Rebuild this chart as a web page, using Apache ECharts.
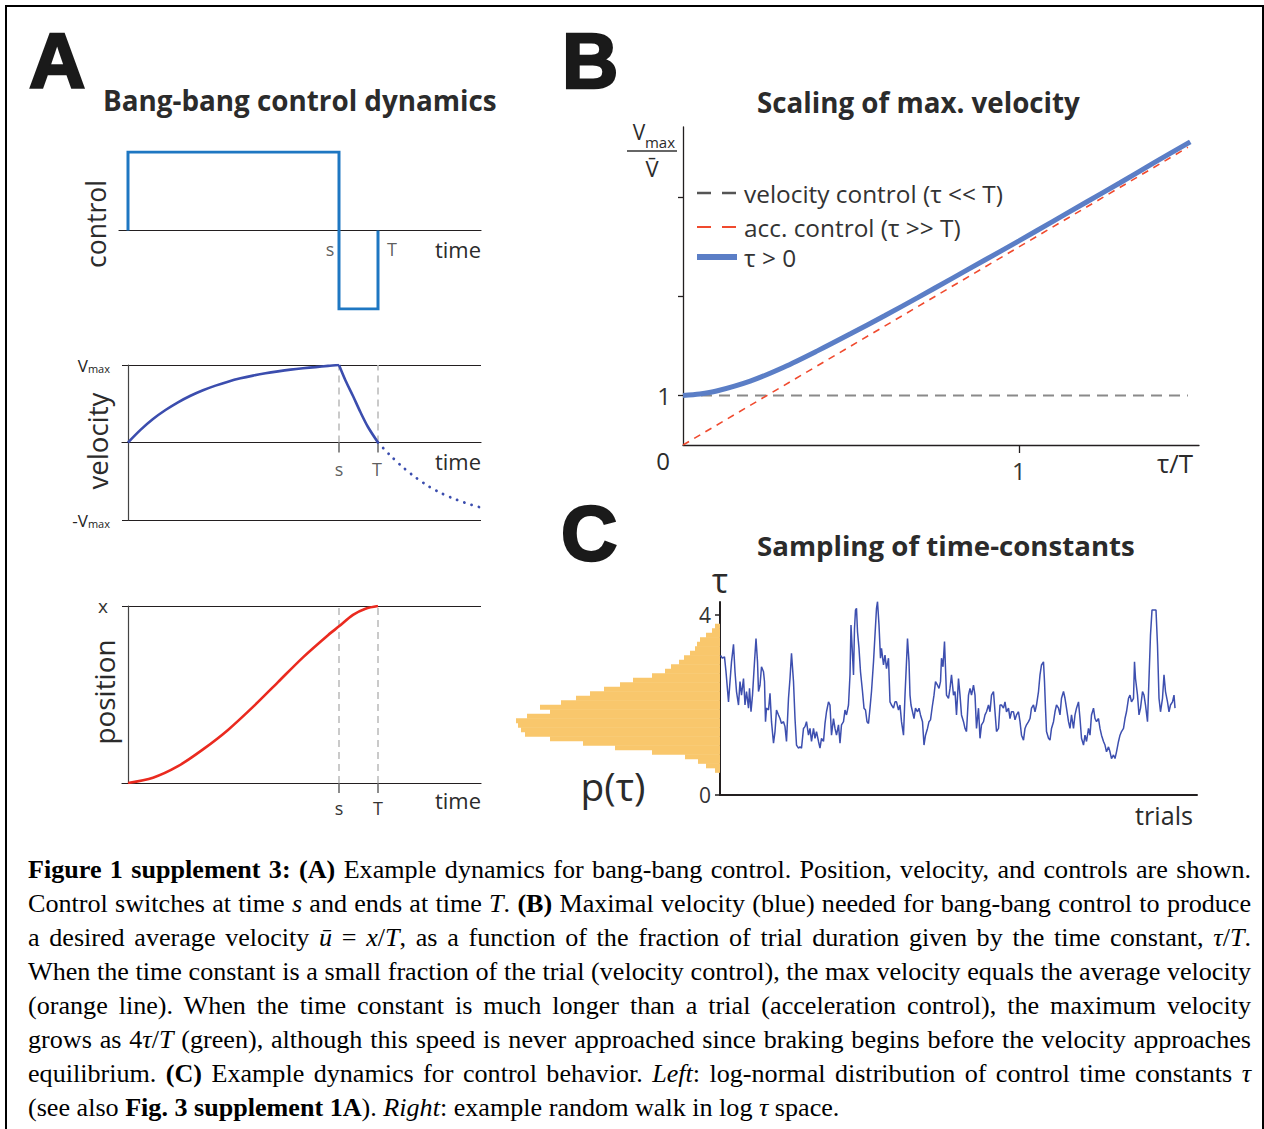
<!DOCTYPE html>
<html><head><meta charset="utf-8">
<script src="https://cdn.jsdelivr.net/npm/echarts@6/dist/echarts.min.js"></script>
<style>
html,body{margin:0;padding:0;background:#fff;width:1264px;height:1129px;overflow:hidden;}
#chart{position:absolute;left:0;top:0;width:1264px;height:1129px;}
#frame{position:absolute;left:5px;top:5px;width:1255px;height:1200px;border:2px solid #000;pointer-events:none;}
#caption{position:absolute;left:28px;top:853px;width:1223px;font-family:"Liberation Serif","Times New Roman",serif;font-size:24px;line-height:34px;color:#000;}
.ln{text-align:justify;text-align-last:justify;}
.ln.last{text-align-last:left;}
</style></head>
<body>
<div id="chart"></div>
<div id="frame"></div>
<div id="caption">
<div class="ln"><b>Figure 1 supplement 3:</b> <b>(A)</b> Example dynamics for bang-bang control. Position, velocity, and controls are shown.</div>
<div class="ln">Control switches at time <i>s</i> and ends at time <i>T</i>. <b>(B)</b> Maximal velocity (blue) needed for bang-bang control to produce</div>
<div class="ln">a desired average velocity <i>ū</i> = <i>x</i>/<i>T</i>, as a function of the fraction of trial duration given by the time constant, <i>τ</i>/<i>T</i>.</div>
<div class="ln">When the time constant is a small fraction of the trial (velocity control), the max velocity equals the average velocity</div>
<div class="ln">(orange line). When the time constant is much longer than a trial (acceleration control), the maximum velocity</div>
<div class="ln">grows as 4<i>τ</i>/<i>T</i> (green), although this speed is never approached since braking begins before the velocity approaches</div>
<div class="ln">equilibrium. <b>(C)</b> Example dynamics for control behavior. <i>Left</i>: log-normal distribution of control time constants <i>τ</i></div>
<div class="ln last">(see also <b>Fig. 3 supplement 1A</b>). <i>Right</i>: example random walk in log <i>τ</i> space.</div>
</div>
<script>
// ---------------- DATA ----------------
const S_TIME = 0.844, T_TIME = 1.0;
// A: control
const ctrlT = [0, 0, 0.844, 0.844, 1.0, 1.0];
const ctrlU = [0, 1, 1, -1, -1, 0];
// A: velocity
const velRiseT = [0, 0.05, 0.1, 0.15, 0.2, 0.25, 0.3, 0.35, 0.4, 0.45, 0.5, 0.55, 0.6, 0.65, 0.7, 0.75, 0.8, 0.844];
const velRiseV = [0, 0.163, 0.303, 0.419, 0.518, 0.603, 0.674, 0.734, 0.785, 0.828, 0.863, 0.893, 0.918, 0.940, 0.958, 0.973, 0.989, 1.0];
const velFallT = [0.844, 0.87, 0.9, 0.93, 0.96, 1.0];
const velFallV = [1.0, 0.80, 0.60, 0.39, 0.20, 0];
const velDotT = [1.0, 1.05, 1.1, 1.15, 1.2, 1.25, 1.3, 1.35, 1.412];
const velDotV = [0, -0.17, -0.32, -0.45, -0.56, -0.65, -0.72, -0.78, -0.84];
// A: position
const posT = [0, 0.1, 0.2, 0.3, 0.4, 0.5, 0.6, 0.7, 0.8, 0.844, 0.9, 0.95, 1.0];
const posX = [0, 0.03, 0.095, 0.19, 0.30, 0.43, 0.57, 0.71, 0.835, 0.885, 0.95, 0.985, 1.0];
// B: scaling of max velocity
const bTau = [0, 0.05, 0.1, 0.2, 0.3, 0.4, 0.5, 0.6, 0.7, 0.8, 0.9, 1.0, 1.1, 1.2, 1.3, 1.4, 1.51];
const bVmax = [1.0, 1.03, 1.09, 1.29, 1.57, 1.9, 2.25, 2.61, 2.98, 3.36, 3.74, 4.12, 4.51, 4.9, 5.29, 5.69, 6.12];
const bLineTau = [0, 1.503];
const bVelCtrl = [1, 1];
const bAccCtrl = [0, 6.01];
const bYTicks = [1, 3, 5];
const legendNames = ['velocity control (τ << T)', 'acc. control (τ >> T)', 'τ > 0'];
// C: random walk of tau over trials
const walkTrial = [1,5,9,12,17,20,23,27,30,33,37,40,43,47,50,53,57,59,62,65,69,72,75,77,80,83,87,89,91,93,97,100,103,107,110,113,117,120,123,127,130,133,137,140,143,147,150,153,157,160,163,167,170,173,177,180,183,187,190,193,197,200,203,207,210,213,217,220,223,227,230,233,237,240,243,247,250,253,257,260,262,265,267,269,271,273,275,278,281,285,288,291,294,297,300,303,307,310,313,315,318,321,323,327,330,333,337,340,343,347,350,353,357,360,363,367,370,373,375,378,380,382,385,388,391,395,398,401,405,408,411,415,418,421,425,428,431,435,438,441,443,446,449,453,457,460,463,467,470,473,477,480,483,487,490,493,497,500,503,507,510,513,517,520,523,527,530,533,537,540,543,547,550,553,557,560,563,567,570,573,577,580,583,587,590,593,597,600,603,607,610,613,617,620,623,627,630,633,637,640,643,647,649,651,653,657,660,663,667,670,673,677,680,683,687,690,693,697,700,703,707,710,713,717,720,723,727,730,733,737,740,743,747,750,753,757,760,763,767,770,773,777,780,783,787,790,793,797,800,803,807,810,813,817,820,823,827,829,831,835,838,841,845,848,851,855,858,861,864,869,872,875,878,881,885,888,891,895,898,901,905,908,910];
const walkTau = [3.10,3.04,3.07,2.74,2.07,2.52,2.96,3.35,2.74,2.30,2.00,2.52,2.22,2.59,2.00,2.30,1.93,2.37,1.85,2.22,2.96,3.48,2.96,2.30,2.44,2.85,2.74,2.52,1.63,1.93,1.89,2.26,1.63,1.15,1.41,1.89,1.78,1.70,1.59,1.63,1.52,1.19,2.15,2.59,3.15,2.52,1.70,1.11,1.04,1.07,1.04,1.48,1.52,1.63,1.33,1.48,1.19,1.48,1.26,1.41,1.19,1.04,1.26,1.19,1.59,1.85,2.07,2.00,1.33,1.70,1.48,1.33,1.56,1.15,1.56,1.63,1.89,1.78,2.00,2.67,3.78,3.11,2.67,3.70,4.11,4.15,3.63,3.26,2.74,2.30,1.93,1.89,1.63,1.59,1.93,2.30,2.96,3.56,4.15,4.30,3.78,3.04,3.26,2.89,3.11,2.81,3.04,2.07,2.00,1.93,2.07,2.07,1.89,2.00,1.63,1.33,2.22,2.96,3.48,2.96,2.22,2.00,1.85,1.70,1.93,1.85,1.93,1.78,1.63,1.11,1.33,1.48,1.63,1.67,2.00,2.22,2.52,2.44,2.37,2.52,3.04,2.85,3.41,2.22,2.15,2.37,2.67,2.22,2.30,1.78,2.59,2.22,1.78,1.63,1.48,1.41,2.22,2.37,2.22,2.44,2.22,1.48,1.93,1.26,1.56,1.63,1.78,1.85,2.00,1.85,2.22,2.30,1.85,1.41,1.48,2.00,2.00,1.93,2.07,1.85,1.93,1.70,1.85,1.85,1.67,1.78,1.85,1.63,1.33,1.22,1.48,1.56,1.63,1.70,1.93,2.00,1.85,2.00,2.30,2.67,2.89,2.96,2.52,1.93,1.41,1.26,1.22,1.48,1.63,1.85,2.00,1.93,1.78,2.15,2.30,2.15,1.93,1.63,1.48,1.78,1.48,1.78,1.93,2.07,1.70,1.26,1.11,1.33,1.19,1.48,1.33,1.78,1.93,1.70,1.63,1.70,1.48,1.33,1.19,1.11,0.96,1.07,0.96,0.81,0.89,0.81,0.96,1.19,1.33,1.41,1.48,1.70,1.85,2.15,2.22,2.07,2.15,2.96,2.59,2.22,1.78,1.93,2.30,2.22,2.00,1.63,2.59,3.56,4.11,4.11,4.11,3.33,2.15,1.85,2.15,2.67,2.30,2.07,1.85,2.00,2.07,2.22,1.93];
// C: histogram p(tau)
const histTau = [3.75,3.65,3.55,3.45,3.35,3.25,3.15,3.05,2.95,2.85,2.75,2.65,2.55,2.45,2.35,2.25,2.15,2.05,1.95,1.85,1.75,1.65,1.55,1.45,1.35,1.25,1.15,1.05,0.95,0.85,0.75,0.65,0.55];
const histCount = [5,8,14,20,23,25,30,36,41,49,55,68,87,100,116,130,144,159,180,170,193,204,202,199,195,170,137,105,68,35,22,14,5];
const cTicks = [0, 1, 2, 3, 4];
const cLabels = [0, 4];

// ---------------- HELPERS ----------------
const zip = (a, b) => a.map((v, i) => [v, b[i]]);
const F = '"Open Sans", "Noto Sans", "DejaVu Sans", sans-serif';
const mctx = document.createElement('canvas').getContext('2d');
function fit(text, width, weight) {
  mctx.font = (weight || 'normal') + ' 100px "Open Sans"';
  return 100 * width / mctx.measureText(text).width;
}
const ink = '#231F20', txtC = '#2b2b2b';
const blueCtrl = '#1E77C2', velBlue = '#3B4DAE', posRed = '#EA2A1F';
const bBlue = '#5B7EC6', walkBlue = '#3D4FAF', orange = '#F9C76C';
const dashGray = '#BDBDBD', legGray = '#555555', accRed = '#F04A2E';

const G = [];
function T(x, y, text, size, o) {
  o = o || {};
  const st = {text: text, fontSize: size, fontFamily: o.fam || F, fontWeight: o.w || 'normal',
    fill: o.c || txtC, align: o.a || 'center', verticalAlign: o.va || 'middle',
    textAlign: o.a || 'center', textVerticalAlign: o.va || 'middle'};
  if (o.stroke) { st.stroke = o.c || txtC; st.lineWidth = o.stroke; }
  G.push({type: 'text', x: x, y: y, rotation: o.rot || 0, z: 50, style: st});
}
function L(x1, y1, x2, y2, color, w) {
  G.push({type: 'line', z: 50, shape: {x1: x1, y1: y1, x2: x2, y2: y2}, style: {stroke: color, lineWidth: w}});
}
const LF = '"Liberation Sans", Arial, sans-serif';
// panel letters
T(29, 61, 'A', 78, {fam: LF, w: 'bold', a: 'left', c: '#1a1a1a', stroke: 2.5});
T(562, 61, 'B', 78, {fam: LF, w: 'bold', a: 'left', c: '#1a1a1a', stroke: 2.5});
T(561, 533, 'C', 78, {fam: LF, w: 'bold', a: 'left', c: '#1a1a1a', stroke: 2.5});
// titles
T(103, 100, 'Bang-bang control dynamics', fit('Bang-bang control dynamics', 394, 'bold'), {w: 'bold', a: 'left'});
T(757, 102, 'Scaling of max. velocity', fit('Scaling of max. velocity', 323, 'bold'), {w: 'bold', a: 'left'});
T(757, 545, 'Sampling of time-constants', fit('Sampling of time-constants', 378, 'bold'), {w: 'bold', a: 'left'});
// A axis titles
const rot = Math.PI / 2;
T(96, 224, 'control', fit('control', 88), {rot: rot});
T(97, 441, 'velocity', fit('velocity', 97), {rot: rot});
T(104, 692, 'position', fit('position', 105), {rot: rot});
const timeSz = fit('time', 46);
T(458, 249, 'time', timeSz);
T(458, 461, 'time', timeSz);
T(458, 800, 'time', timeSz);
// B axis title (fraction)
T(639, 132, 'V', 21);
T(660, 142, 'max', 15);
L(627, 151, 677, 151, '#333', 1.5);
T(652, 168, 'V\u0304', 22);
T(663, 460, '0', 24);
T(1175, 463, 'τ/T', fit('τ/T', 36));
// B legend
const legSz = fit(legendNames[0], 259);
const legY = [193, 227, 257];
G.push({type: 'line', z: 50, shape: {x1: 697, y1: legY[0], x2: 737, y2: legY[0]}, style: {stroke: legGray, lineWidth: 2.5, lineDash: [14, 11]}});
G.push({type: 'line', z: 50, shape: {x1: 697, y1: legY[1], x2: 737, y2: legY[1]}, style: {stroke: accRed, lineWidth: 2.2, lineDash: [14, 11]}});
L(697, legY[2], 737, legY[2], bBlue, 6);
legendNames.forEach((n, i) => T(744, legY[i], n, legSz, {a: 'left', c: '#333'}));
// C texts
T(720, 580, 'τ', 34);
T(613, 786, 'p(τ)', fit('p(τ)', 65));
T(1164, 815, 'trials', fit('trials', 58));

// ---------------- OPTION ----------------
const sLabel = (name, dx, dy) => ({name: name, value: [name === 's' ? S_TIME : T_TIME, 0], label: {offset: [dx, dy]}});
const tickLabelStyle = {show: true, formatter: '{b}', fontSize: 18, color: '#333', fontFamily: F, position: 'inside', textBorderWidth: 0};
const option = {
  animation: false,
  backgroundColor: '#fff',
  textStyle: {fontFamily: F},
  grid: [
    {left: 119, top: 152, width: 362, height: 157},   // A control
    {left: 122, top: 365, width: 359, height: 155},   // A velocity
    {left: 122, top: 606, width: 359, height: 177},   // A position
    {left: 683, top: 127, width: 516, height: 318},   // B
    {left: 720, top: 602, width: 477, height: 193},   // C walk
    {left: 516, top: 602, width: 204, height: 193}    // C hist
  ],
  xAxis: [
    {gridIndex: 0, type: 'value', min: -0.036, max: 1.412,
      axisLine: {show: true, onZero: true, lineStyle: {color: ink, width: 1.2}},
      axisTick: {show: false}, axisLabel: {show: false}, splitLine: {show: false}},
    {gridIndex: 1, type: 'value', min: -0.024, max: 1.412,
      axisLine: {show: true, onZero: true, lineStyle: {color: ink, width: 1.2}},
      axisTick: {show: false}, axisLabel: {show: false}, splitLine: {show: false}},
    {gridIndex: 2, type: 'value', min: -0.024, max: 1.412,
      axisLine: {show: true, onZero: true, lineStyle: {color: ink, width: 1.2}},
      axisTick: {show: true, customValues: [S_TIME, T_TIME], length: 10, lineStyle: {color: '#666', width: 1.5}},
      axisLabel: {show: true, customValues: [S_TIME, T_TIME], formatter: v => (v < 0.9 ? 's' : 'T'), margin: 16, fontSize: 18, color: '#333', fontFamily: F},
      splitLine: {show: false}},
    {gridIndex: 3, type: 'value', min: 0, max: 1.536,
      axisLine: {show: true, onZero: false, lineStyle: {color: ink, width: 1.3}},
      axisTick: {show: true, customValues: [1], length: 8, lineStyle: {color: ink, width: 1.3}},
      axisLabel: {show: true, customValues: [1], margin: 13, fontSize: 24, color: '#333', fontFamily: F},
      splitLine: {show: false}},
    {gridIndex: 4, type: 'value', min: 0, max: 954,
      axisLine: {show: true, onZero: false, lineStyle: {color: ink, width: 2}},
      axisTick: {show: false}, axisLabel: {show: false}, splitLine: {show: false}},
    {gridIndex: 5, type: 'value', min: 0, max: 204, inverse: true, show: false}
  ],
  yAxis: [
    {gridIndex: 0, type: 'value', min: -1, max: 1, show: false},
    {gridIndex: 1, type: 'value', min: -1, max: 1, interval: 1,
      axisLine: {show: true, onZero: true, lineStyle: {color: '#444', width: 1.2}},
      axisTick: {show: false},
      splitLine: {show: true, lineStyle: {color: ink, width: 1.2}},
      axisLabel: {show: true, margin: 12, formatter: v => (v === 1 ? '{v|V}{m|max}' : (v === -1 ? '{v|-V}{m|max}' : '')),
        rich: {v: {fontSize: 17, color: '#222', fontFamily: F}, m: {fontSize: 11, color: '#222', fontFamily: F, padding: [7, 0, 0, 0]}}}},
    {gridIndex: 2, type: 'value', min: 0, max: 1, interval: 1,
      axisLine: {show: true, onZero: true, lineStyle: {color: '#444', width: 1.2}},
      axisTick: {show: false},
      splitLine: {show: true, lineStyle: {color: ink, width: 1.2}},
      axisLabel: {show: true, margin: 14, fontSize: 19, color: '#333', fontFamily: F, formatter: v => (v === 1 ? 'x' : '')}},
    {gridIndex: 3, type: 'value', min: 0, max: 6.42,
      axisLine: {show: true, onZero: false, lineStyle: {color: ink, width: 1.3}},
      axisTick: {show: true, customValues: bYTicks, length: 5, lineStyle: {color: ink, width: 1.3}},
      axisLabel: {show: true, customValues: [1], margin: 12, fontSize: 24, color: '#333', fontFamily: F},
      splitLine: {show: false}},
    {gridIndex: 4, type: 'value', min: 0, max: 4.29,
      axisLine: {show: true, onZero: false, lineStyle: {color: ink, width: 2}},
      axisTick: {show: true, customValues: cTicks, length: 5, lineStyle: {color: ink, width: 1.5}},
      axisLabel: {show: true, customValues: cLabels, margin: 9, fontSize: 21, color: '#333', fontFamily: F},
      splitLine: {show: false}},
    {gridIndex: 5, type: 'value', min: 0, max: 4.29, show: false}
  ],
  graphic: {elements: G},
  series: [
    // A control
    {type: 'line', xAxisIndex: 0, yAxisIndex: 0, data: zip(ctrlT, ctrlU), symbol: 'none',
      lineStyle: {color: blueCtrl, width: 3, join: 'miter'}, z: 3},
    {type: 'scatter', xAxisIndex: 0, yAxisIndex: 0, symbolSize: 0, silent: true, itemStyle: {color: '#333'},
      data: [sLabel('s', -9, 18), sLabel('T', 14, 18)], label: tickLabelStyle},
    // A velocity
    {type: 'line', xAxisIndex: 1, yAxisIndex: 1, data: [[S_TIME, 0], [S_TIME, 1]], symbol: 'none', lineStyle: {color: dashGray, width: 1.6, type: [7, 5]}, z: 1},
    {type: 'line', xAxisIndex: 1, yAxisIndex: 1, data: [[T_TIME, 0], [T_TIME, 1]], symbol: 'none', lineStyle: {color: dashGray, width: 1.6, type: [7, 5]}, z: 1},
    {type: 'line', xAxisIndex: 1, yAxisIndex: 1, data: [[S_TIME, 0], [S_TIME, -0.13]], symbol: 'none', lineStyle: {color: '#666', width: 1.5}, z: 1},
    {type: 'line', xAxisIndex: 1, yAxisIndex: 1, data: [[T_TIME, 0], [T_TIME, -0.13]], symbol: 'none', lineStyle: {color: '#666', width: 1.5}, z: 1},
    {type: 'scatter', xAxisIndex: 1, yAxisIndex: 1, symbolSize: 0, silent: true, itemStyle: {color: '#333'},
      data: [sLabel('s', 0, 26), sLabel('T', -1, 26)], label: tickLabelStyle},
    {type: 'line', xAxisIndex: 1, yAxisIndex: 1, data: zip(velRiseT, velRiseV), symbol: 'none', smooth: 0.3, lineStyle: {color: velBlue, width: 2.6}, z: 3},
    {type: 'line', xAxisIndex: 1, yAxisIndex: 1, data: zip(velFallT, velFallV), symbol: 'none', smooth: 0.3, lineStyle: {color: velBlue, width: 2.6}, z: 3},
    {type: 'line', xAxisIndex: 1, yAxisIndex: 1, data: zip(velDotT, velDotV), symbol: 'none', smooth: 0.3, lineStyle: {color: velBlue, width: 2.8, type: [0.1, 7.5], cap: 'round'}, z: 3},
    // A position
    {type: 'line', xAxisIndex: 2, yAxisIndex: 2, data: [[S_TIME, 0], [S_TIME, 1]], symbol: 'none', lineStyle: {color: dashGray, width: 1.6, type: [7, 5]}, z: 1},
    {type: 'line', xAxisIndex: 2, yAxisIndex: 2, data: [[T_TIME, 0], [T_TIME, 1]], symbol: 'none', lineStyle: {color: dashGray, width: 1.6, type: [7, 5]}, z: 1},
    {type: 'line', xAxisIndex: 2, yAxisIndex: 2, data: zip(posT, posX), symbol: 'none', smooth: 0.3, lineStyle: {color: posRed, width: 2.6}, z: 3},
    // B
    {name: legendNames[0], type: 'line', xAxisIndex: 3, yAxisIndex: 3, data: zip(bLineTau, bVelCtrl), symbol: 'none',
      lineStyle: {color: '#8a8a8a', width: 2, type: [11, 7]}, z: 2},
    {name: legendNames[1], type: 'line', xAxisIndex: 3, yAxisIndex: 3, data: zip(bLineTau, bAccCtrl), symbol: 'none',
      lineStyle: {color: accRed, width: 1.6, type: [7, 6]}, z: 3},
    {name: legendNames[2], type: 'line', xAxisIndex: 3, yAxisIndex: 3, data: zip(bTau, bVmax), symbol: 'none', smooth: 0.3,
      lineStyle: {color: bBlue, width: 5}, z: 4},
    // C walk
    {type: 'line', xAxisIndex: 4, yAxisIndex: 4, data: zip(walkTrial, walkTau), symbol: 'none',
      lineStyle: {color: walkBlue, width: 1.5}, z: 3},
    // C histogram
    {type: 'custom', xAxisIndex: 5, yAxisIndex: 5, data: zip(histTau, histCount), silent: true,
      encode: {x: 1, y: 0},
      renderItem: function (params, api) {
        const tau = api.value(0), cnt = api.value(1);
        const p0 = api.coord([0, tau - 0.05]);
        const p1 = api.coord([cnt, tau + 0.05]);
        return {type: 'rect', shape: {x: p1[0], y: p1[1] - 0.3, width: p0[0] - p1[0], height: p0[1] - p1[1] + 0.6},
          style: {fill: orange}};
      }}
  ]
};
const chart = echarts.init(document.getElementById('chart'), null, {renderer: 'svg', width: 1264, height: 1129});
chart.setOption(option);

// fit caption lines to width
(function fitCaption() {
  const cap = document.getElementById('caption');
  const lines = cap.querySelectorAll('.ln');
  let maxW = 0;
  lines.forEach(ln => {
    if (ln.classList.contains('last')) return;
    const sp = document.createElement('span');
    sp.innerHTML = ln.innerHTML;
    sp.style.whiteSpace = 'nowrap'; sp.style.position = 'absolute'; sp.style.visibility = 'hidden';
    cap.appendChild(sp);
    maxW = Math.max(maxW, sp.getBoundingClientRect().width);
    cap.removeChild(sp);
  });
  const fs = 24 * 1221 / maxW;
  cap.style.fontSize = fs.toFixed(2) + 'px';
})();
</script>
</body></html>
